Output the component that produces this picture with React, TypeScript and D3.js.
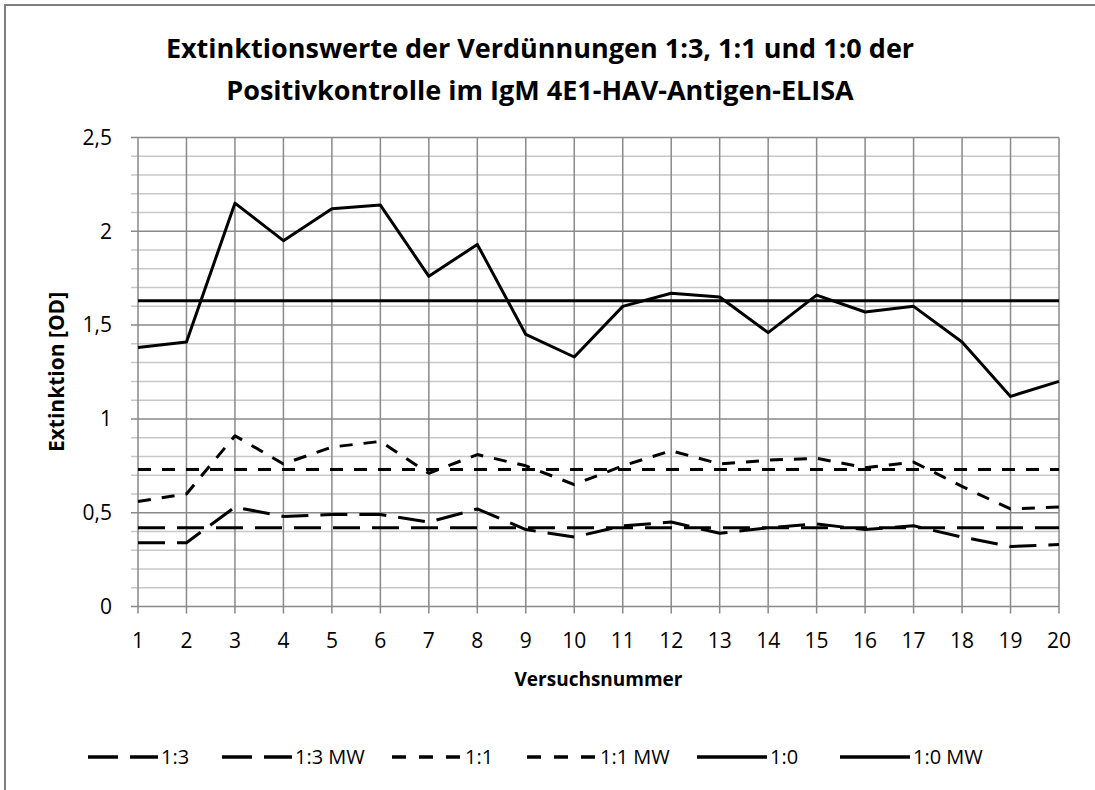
import { useEffect, useRef } from 'react';
import * as d3 from 'd3';

const runs = [1, 2, 3, 4, 5, 6, 7, 8, 9, 10, 11, 12, 13, 14, 15, 16, 17, 18, 19, 20];

const dil13 = [0.34, 0.34, 0.53, 0.48, 0.49, 0.49, 0.45, 0.52, 0.41, 0.37, 0.43, 0.45, 0.39, 0.42, 0.44, 0.41, 0.43, 0.37, 0.32, 0.33];
const dil13Mw = [0.42, 0.42, 0.42, 0.42, 0.42, 0.42, 0.42, 0.42, 0.42, 0.42, 0.42, 0.42, 0.42, 0.42, 0.42, 0.42, 0.42, 0.42, 0.42, 0.42];
const dil11 = [0.56, 0.6, 0.91, 0.76, 0.85, 0.88, 0.71, 0.81, 0.75, 0.65, 0.75, 0.83, 0.76, 0.78, 0.79, 0.74, 0.77, 0.64, 0.52, 0.53];
const dil11Mw = [0.73, 0.73, 0.73, 0.73, 0.73, 0.73, 0.73, 0.73, 0.73, 0.73, 0.73, 0.73, 0.73, 0.73, 0.73, 0.73, 0.73, 0.73, 0.73, 0.73];
const dil10 = [1.38, 1.41, 2.15, 1.95, 2.12, 2.14, 1.76, 1.93, 1.45, 1.33, 1.6, 1.67, 1.65, 1.46, 1.66, 1.57, 1.6, 1.41, 1.12, 1.2];
const dil10Mw = [1.63, 1.63, 1.63, 1.63, 1.63, 1.63, 1.63, 1.63, 1.63, 1.63, 1.63, 1.63, 1.63, 1.63, 1.63, 1.63, 1.63, 1.63, 1.63, 1.63];

const seriesNames = ['1:3', '1:3 MW', '1:1', '1:1 MW', '1:0', '1:0 MW'];
const yTicks = [0, 0.5, 1, 1.5, 2, 2.5];

const titleLines = [
  'Extinktionswerte der Verdünnungen 1:3, 1:1 und 1:0 der',
  'Positivkontrolle im IgM 4E1-HAV-Antigen-ELISA',
];

const FONT = '"Open Sans", Calibri, sans-serif';

export default function App() {
  const svgRef = useRef<SVGSVGElement>(null);
  const width = 1095;
  const height = 790;

  useEffect(() => {
    if (!svgRef.current) return;
    const svg = d3.select(svgRef.current);
    svg.selectAll('*').remove();

    const margin = { top: 137.5, right: 36, bottom: 183.5, left: 138 };
    const plotW = width - margin.left - margin.right;
    const plotH = height - margin.top - margin.bottom;

    svg.append('rect')
      .attr('width', width).attr('height', height)
      .attr('fill', '#fff');

    // outer chart frame, its right and bottom edge lie outside the picture
    svg.append('rect')
      .attr('x', 5).attr('y', 5)
      .attr('width', width + 20).attr('height', height + 20)
      .attr('fill', 'none').attr('stroke', '#7f7f7f').attr('stroke-width', 2);

    const x = d3.scaleLinear().domain([1, 20]).range([0, plotW]);
    const y = d3.scaleLinear().domain([0, 2.5]).range([plotH, 0]);

    const g = svg.append('g').attr('transform', `translate(${margin.left},${margin.top})`);

    // minor horizontal grid
    const minor = d3.range(0, 26).map(i => i / 10);
    g.append('g')
      .selectAll('line')
      .data(minor.filter(v => Math.round(v * 10) % 5 !== 0))
      .enter()
      .append('line')
      .attr('x1', -7).attr('x2', plotW)
      .attr('y1', d => y(d)).attr('y2', d => y(d))
      .attr('stroke', '#c8c8c8').attr('stroke-width', 1.5);

    // vertical grid
    g.append('g')
      .selectAll('line')
      .data(runs)
      .enter()
      .append('line')
      .attr('x1', d => x(d)).attr('x2', d => x(d))
      .attr('y1', 0).attr('y2', plotH + 7)
      .attr('stroke', '#898989').attr('stroke-width', 1.5);

    // major horizontal grid
    g.append('g')
      .selectAll('line')
      .data(yTicks)
      .enter()
      .append('line')
      .attr('x1', -7).attr('x2', plotW)
      .attr('y1', d => y(d)).attr('y2', d => y(d))
      .attr('stroke', '#898989').attr('stroke-width', 1.5);

    // y labels
    g.append('g')
      .selectAll('text')
      .data(yTicks)
      .enter()
      .append('text')
      .attr('x', -26)
      .attr('y', d => y(d))
      .attr('dy', '0.35em')
      .attr('text-anchor', 'end')
      .attr('font-family', FONT)
      .attr('font-size', 21)
      .attr('fill', '#000')
      .text(d => d3.format('.1~f')(d).replace('.', ','));

    // x labels
    g.append('g')
      .selectAll('text')
      .data(runs)
      .enter()
      .append('text')
      .attr('x', d => x(d))
      .attr('y', plotH + 34)
      .attr('dy', '0.35em')
      .attr('text-anchor', 'middle')
      .attr('font-family', FONT)
      .attr('font-size', 21)
      .attr('fill', '#000')
      .text(d => String(d));

    const lineGen = d3.line<number>()
      .x((_, i) => x(runs[i]))
      .y(d => y(d));

    const longDash = '27,12';
    const shortDash = '13,11';
    const seriesValues = [dil13, dil13Mw, dil11, dil11Mw, dil10, dil10Mw];
    const dashes = [longDash, longDash, shortDash, shortDash, null, null];

    seriesValues.forEach((vals, i) => {
      g.append('path')
        .datum(vals)
        .attr('d', lineGen)
        .attr('fill', 'none')
        .attr('stroke', '#000')
        .attr('stroke-width', 3)
        .attr('stroke-linejoin', 'round')
        .attr('stroke-dasharray', dashes[i]);
    });

    // title
    svg.append('g')
      .selectAll('text')
      .data(titleLines)
      .enter()
      .append('text')
      .attr('x', 540)
      .attr('y', (_, i) => 58 + i * 42)
      .attr('text-anchor', 'middle')
      .attr('font-family', FONT)
      .attr('font-weight', 'bold')
      .attr('font-size', 27)
      .attr('fill', '#000')
      .text(d => d);

    // axis titles
    svg.append('text')
      .attr('x', margin.left + plotW / 2)
      .attr('y', 679)
      .attr('dy', '0.35em')
      .attr('text-anchor', 'middle')
      .attr('font-family', FONT)
      .attr('font-weight', 'bold')
      .attr('font-size', 19)
      .text('Versuchsnummer');

    svg.append('text')
      .attr('transform', `translate(57,${margin.top + plotH / 2}) rotate(-90)`)
      .attr('dy', '0.35em')
      .attr('text-anchor', 'middle')
      .attr('font-family', FONT)
      .attr('font-weight', 'bold')
      .attr('font-size', 21)
      .text('Extinktion [OD]');

    // legend
    const legendY = 757;
    const legendX = [88, 222, 392, 527, 697, 840];
    const legendDash = ['30,12', '30,12', '14,13', '14,13', null, null];
    const lg = svg.append('g');
    seriesNames.forEach((name, i) => {
      lg.append('line')
        .attr('x1', legendX[i]).attr('x2', legendX[i] + 70)
        .attr('y1', legendY).attr('y2', legendY)
        .attr('stroke', '#000').attr('stroke-width', 3.5)
        .attr('stroke-dasharray', legendDash[i]);
      lg.append('text')
        .attr('x', legendX[i] + 73)
        .attr('y', legendY)
        .attr('dy', '0.35em')
        .attr('font-family', FONT)
        .attr('font-size', 20)
        .text(name);
    });
  }, []);

  return (
    <div style={{ position: 'absolute', left: 0, top: 0, width, height, overflow: 'hidden', background: '#fff' }}>
      <svg ref={svgRef} width={width} height={height} style={{ display: 'block' }}></svg>
    </div>
  );
}
